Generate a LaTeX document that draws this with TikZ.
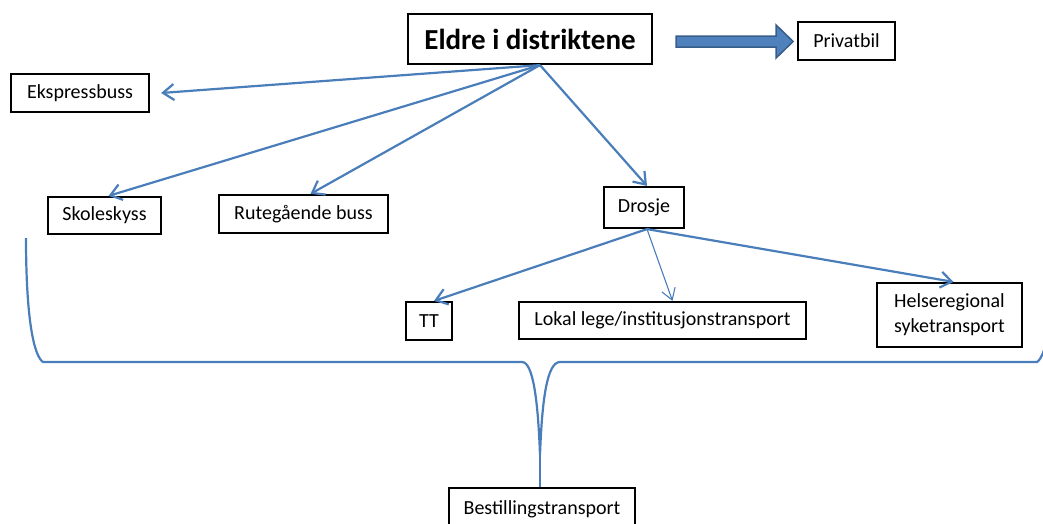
\documentclass[tikz,border=0pt]{standalone}
\usepackage{fontspec}
\setmainfont{Carlito}
\usetikzlibrary{arrows.meta}
\definecolor{linkblue}{HTML}{4A7EBB}
\definecolor{fatfill}{HTML}{4F81BD}
\definecolor{fatedge}{HTML}{385D8A}
\begin{document}
\begin{tikzpicture}[x=1pt,y=-1pt,
	box/.style={draw=black,line width=2.2pt,inner sep=0pt,font=\fontsize{20}{25}\selectfont},
	link/.style={draw=linkblue,line width=2.2pt,-{Straight Barb[length=11pt,width=16pt]}},
	thinlink/.style={draw=linkblue,line width=1.1pt,-{Straight Barb[length=11pt,width=14pt]}},
	brace/.style={draw=linkblue,line width=2.2pt}]
		\clip (0,0) rectangle (1043,523);
		\node[box,minimum width=244pt,minimum height=50pt,font=\fontsize{29}{32}\selectfont\bfseries] (eldre) at (530,39) {Eldre i distriktene};
		\node[box,minimum width=97pt,minimum height=38pt] (privat) at (846.5,41) {Privatbil};
		\node[box,minimum width=138pt,minimum height=38pt] (ekspress) at (80,93) {Ekspressbuss};
		\node[box,minimum width=113pt,minimum height=37pt] (skole) at (104.5,215.5) {Skoleskyss};
		\node[box,minimum width=169pt,minimum height=38pt] (rute) at (303.5,214) {Rutegående buss};
		\node[box,minimum width=80pt,minimum height=41pt] (drosje) at (644,207.5) {Drosje};
		\node[box,minimum width=46pt,minimum height=38pt] (tt) at (429,321) {TT};
		\node[box,minimum width=287pt,minimum height=37pt] (lokal) at (662.5,320.5) {Lokal lege/institusjonstransport};
		\node[box,minimum width=145pt,minimum height=64pt,align=left] (helse) at (949.5,315) {Helseregional\\syketransport};
		\node[box,minimum width=186pt,minimum height=42pt] (bestill) at (542,509) {Bestillingstransport};
		\coordinate (eo) at ([xshift=10pt]eldre.south);
		\coordinate (do) at ([xshift=3pt]drosje.south);
		\draw[link] (eo) -- ([xshift=11pt]ekspress.east);
		\draw[link] (eo) -- ([xshift=4pt]skole.north);
		\draw[link] (eo) -- ([xshift=7pt]rute.north);
		\draw[link] (eo) -- ([xshift=3pt]drosje.north);
		\draw[link] (do) -- ([xshift=5pt]tt.north);
		\draw[thinlink] (do) -- ([xshift=10pt]lokal.north);
		\draw[link] (do) -- ([xshift=4pt]helse.north);
		\filldraw[fill=fatfill,draw=fatedge,line width=1.5pt] ([shift={(23pt,3pt)}]eldre.east) -- ++(100,0) -- ++(0,-11) -- ++(17,16.5) -- ++(-17,16.5) -- ++(0,-11) -- ++(-100,0) -- cycle;
		\coordinate (tip) at (540,455);
		\draw[brace] (26,238) .. controls (26,320) and (34,356) .. (43,362) -- (522,362) .. controls (533,362) and (538,400) .. (tip) .. controls (542,400) and (547,362) .. (560,362) -- (1037,362) .. controls (1046,356) and (1054,320) .. (1054,238);
		\draw[brace] (tip) -- (tip |- bestill.north);
		\end{tikzpicture}
\end{document}
